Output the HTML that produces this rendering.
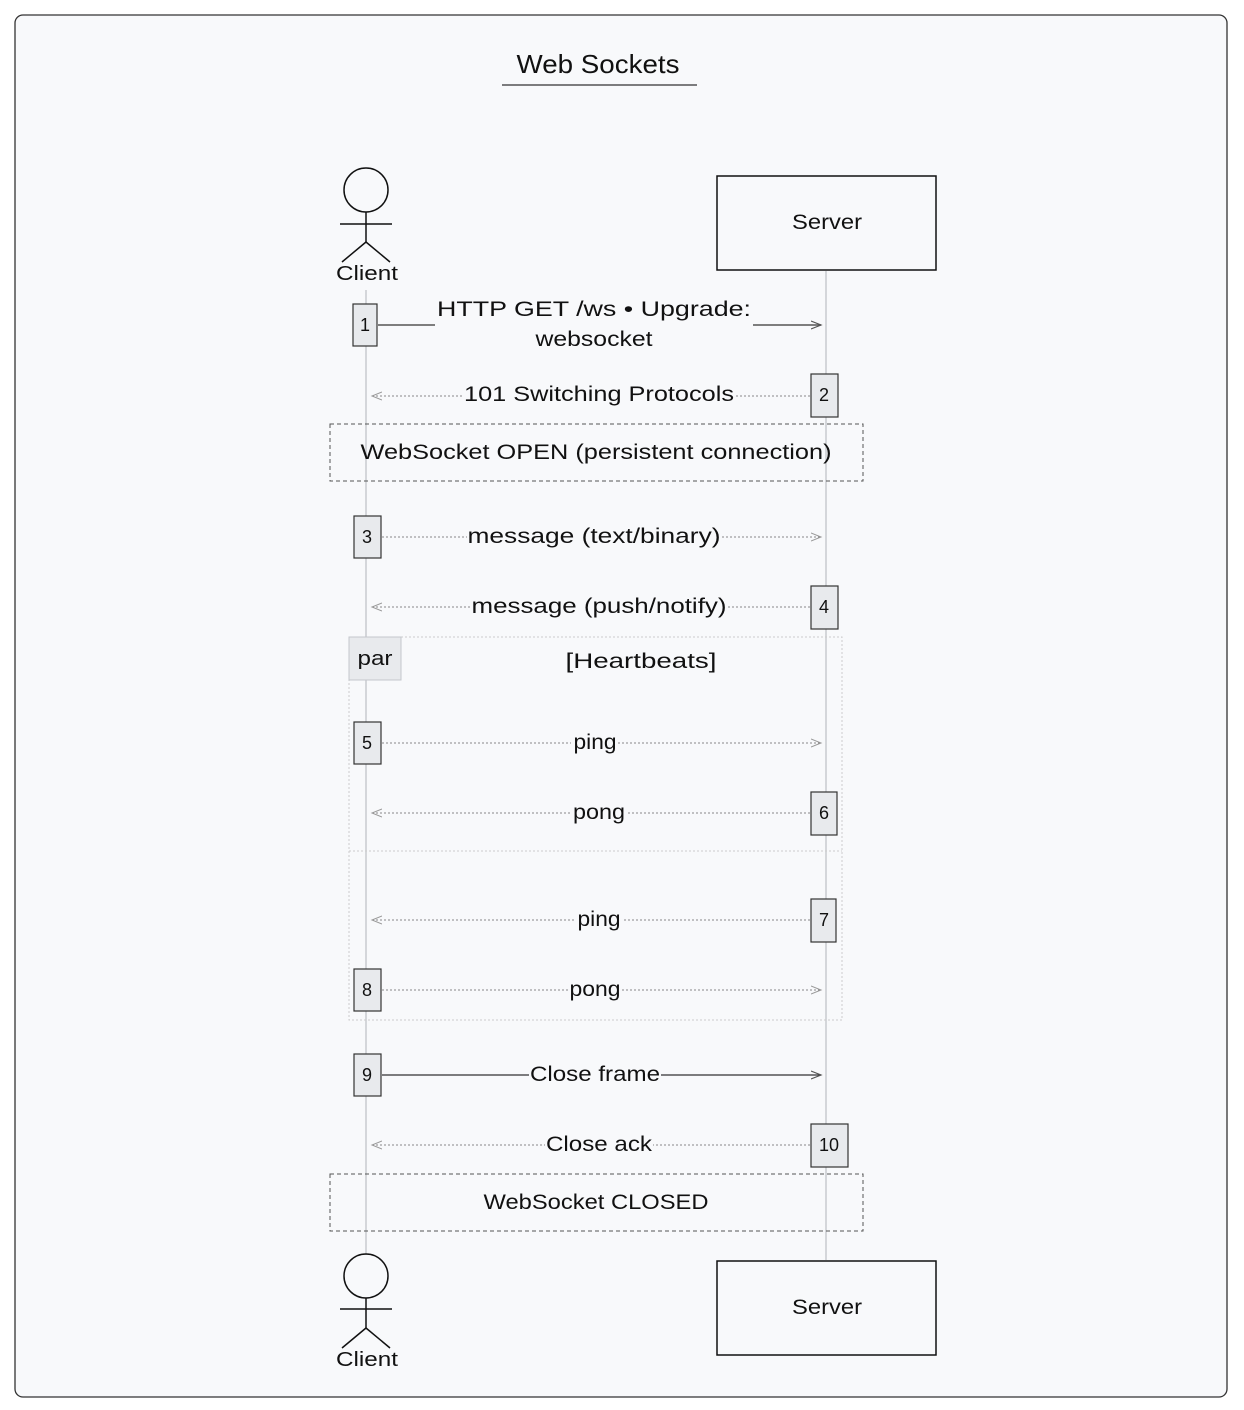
<!DOCTYPE html>
<html><head><meta charset="utf-8"><style>
html,body{margin:0;padding:0;background:#fff;}
svg{display:block;}
text{font-family:"Liberation Sans",sans-serif;fill:#111;}
</style></head><body>
<svg width="1244" height="1410" viewBox="0 0 1244 1410" xmlns="http://www.w3.org/2000/svg">
<defs>
<marker id="a" markerWidth="12" markerHeight="10" refX="10" refY="5" orient="auto" markerUnits="userSpaceOnUse"><path d="M0,1 L10,5 L0,9" fill="none" stroke="#555" stroke-width="1.2"/></marker>
<marker id="ad" markerWidth="12" markerHeight="10" refX="10" refY="5" orient="auto" markerUnits="userSpaceOnUse"><path d="M0,1 L10,5 L0,9" fill="none" stroke="#999" stroke-width="1"/></marker>
</defs>
<rect x="0" y="0" width="1244" height="1410" fill="#fff"/>
<rect x="15" y="15" width="1212" height="1382" rx="8" fill="#f8f9fb" stroke="#333" stroke-width="1.3"/>
<text x="598" y="73" font-size="26" text-anchor="middle" textLength="163" lengthAdjust="spacingAndGlyphs">Web Sockets</text>
<line x1="502" y1="85" x2="697" y2="85" stroke="#333" stroke-width="1.3"/>

<line x1="366" y1="290" x2="366" y2="1255" stroke="#d4d6da" stroke-width="2"/>
<line x1="826" y1="271" x2="826" y2="1260" stroke="#d4d6da" stroke-width="2"/>

<g stroke="#111" stroke-width="1.5" fill="none">
<circle cx="366" cy="190" r="22"/>
<line x1="366" y1="212" x2="366" y2="242"/>
<line x1="340" y1="224" x2="392" y2="224"/>
<line x1="366" y1="242" x2="342" y2="262"/>
<line x1="366" y1="242" x2="390" y2="262"/>
</g>
<text x="367" y="280" font-size="20" text-anchor="middle" textLength="62" lengthAdjust="spacingAndGlyphs">Client</text>
<rect x="717" y="176" width="219" height="94" fill="#f8f9fb" stroke="#111" stroke-width="1.5"/>
<text x="827" y="229" font-size="21" text-anchor="middle" textLength="70" lengthAdjust="spacingAndGlyphs">Server</text>

<g stroke="#111" stroke-width="1.5" fill="none">
<circle cx="366" cy="1276" r="22"/>
<line x1="366" y1="1298" x2="366" y2="1328"/>
<line x1="340" y1="1309" x2="392" y2="1309"/>
<line x1="366" y1="1328" x2="342" y2="1348"/>
<line x1="366" y1="1328" x2="390" y2="1348"/>
</g>
<text x="367" y="1366" font-size="20" text-anchor="middle" textLength="62" lengthAdjust="spacingAndGlyphs">Client</text>
<rect x="717" y="1261" width="219" height="94" fill="#f8f9fb" stroke="#111" stroke-width="1.5"/>
<text x="827" y="1314" font-size="21" text-anchor="middle" textLength="70" lengthAdjust="spacingAndGlyphs">Server</text>

<line x1="378" y1="325" x2="435" y2="325" stroke="#555" stroke-width="1.5"/>
<line x1="753" y1="325" x2="821" y2="325" stroke="#555" stroke-width="1.5" marker-end="url(#a)"/>
<text x="594" y="316" font-size="21" text-anchor="middle" textLength="314" lengthAdjust="spacingAndGlyphs">HTTP GET /ws • Upgrade:</text>
<text x="594" y="346" font-size="21" text-anchor="middle" textLength="117" lengthAdjust="spacingAndGlyphs">websocket</text>
<rect x="353" y="304" width="24" height="42" fill="#e8eaed" stroke="#333" stroke-width="1.2"/>
<text x="365" y="331" font-size="18" text-anchor="middle">1</text>

<line x1="810" y1="396" x2="372" y2="396" stroke="#888" stroke-width="1" stroke-dasharray="2,2" marker-end="url(#ad)"/>
<rect x="463" y="380" width="272" height="26" fill="#f8f9fb"/>
<text x="599" y="401" font-size="21" text-anchor="middle" textLength="270" lengthAdjust="spacingAndGlyphs">101 Switching Protocols</text>
<rect x="811" y="374" width="27" height="43" fill="#e8eaed" stroke="#333" stroke-width="1.2"/>
<text x="824" y="401" font-size="18" text-anchor="middle">2</text>

<rect x="330" y="424" width="533" height="57" fill="none" stroke="#555" stroke-width="1" stroke-dasharray="4,3"/>
<text x="596" y="459" font-size="21" text-anchor="middle" textLength="471" lengthAdjust="spacingAndGlyphs">WebSocket OPEN (persistent connection)</text>

<line x1="382" y1="537" x2="821" y2="537" stroke="#888" stroke-width="1" stroke-dasharray="2,2" marker-end="url(#ad)"/>
<rect x="467" y="522" width="255" height="26" fill="#f8f9fb"/>
<text x="594" y="543" font-size="21" text-anchor="middle" textLength="253" lengthAdjust="spacingAndGlyphs">message (text/binary)</text>
<rect x="354" y="516" width="27" height="42" fill="#e8eaed" stroke="#333" stroke-width="1.2"/>
<text x="367" y="543" font-size="18" text-anchor="middle">3</text>

<line x1="810" y1="607" x2="372" y2="607" stroke="#888" stroke-width="1" stroke-dasharray="2,2" marker-end="url(#ad)"/>
<rect x="471" y="592" width="257" height="26" fill="#f8f9fb"/>
<text x="599" y="613" font-size="21" text-anchor="middle" textLength="255" lengthAdjust="spacingAndGlyphs">message (push/notify)</text>
<rect x="811" y="586" width="27" height="43" fill="#e8eaed" stroke="#333" stroke-width="1.2"/>
<text x="824" y="613" font-size="18" text-anchor="middle">4</text>

<rect x="349" y="637" width="493" height="383" fill="none" stroke="#ccc" stroke-width="1" stroke-dasharray="2,2"/>
<line x1="349" y1="851" x2="842" y2="851" stroke="#ccc" stroke-width="1" stroke-dasharray="2,2"/>
<rect x="349" y="637" width="52" height="43" fill="#e8eaed" stroke="#c4c7cc" stroke-width="1"/>
<text x="375" y="665" font-size="20" text-anchor="middle" textLength="35" lengthAdjust="spacingAndGlyphs">par</text>
<text x="641" y="668" font-size="21" text-anchor="middle" textLength="151" lengthAdjust="spacingAndGlyphs">[Heartbeats]</text>

<line x1="382" y1="743" x2="821" y2="743" stroke="#888" stroke-width="1" stroke-dasharray="2,2" marker-end="url(#ad)"/>
<rect x="571" y="728" width="47" height="26" fill="#f8f9fb"/>
<text x="595" y="749" font-size="21" text-anchor="middle" textLength="43" lengthAdjust="spacingAndGlyphs">ping</text>
<rect x="354" y="722" width="27" height="42" fill="#e8eaed" stroke="#333" stroke-width="1.2"/>
<text x="367" y="749" font-size="18" text-anchor="middle">5</text>

<line x1="810" y1="813" x2="372" y2="813" stroke="#888" stroke-width="1" stroke-dasharray="2,2" marker-end="url(#ad)"/>
<rect x="572" y="798" width="55" height="26" fill="#f8f9fb"/>
<text x="599" y="819" font-size="21" text-anchor="middle" textLength="52" lengthAdjust="spacingAndGlyphs">pong</text>
<rect x="811" y="792" width="26" height="43" fill="#e8eaed" stroke="#333" stroke-width="1.2"/>
<text x="824" y="819" font-size="18" text-anchor="middle">6</text>

<line x1="810" y1="920" x2="372" y2="920" stroke="#888" stroke-width="1" stroke-dasharray="2,2" marker-end="url(#ad)"/>
<rect x="576" y="905" width="46" height="26" fill="#f8f9fb"/>
<text x="599" y="926" font-size="21" text-anchor="middle" textLength="43" lengthAdjust="spacingAndGlyphs">ping</text>
<rect x="811" y="899" width="25" height="43" fill="#e8eaed" stroke="#333" stroke-width="1.2"/>
<text x="824" y="926" font-size="18" text-anchor="middle">7</text>

<line x1="382" y1="990" x2="821" y2="990" stroke="#888" stroke-width="1" stroke-dasharray="2,2" marker-end="url(#ad)"/>
<rect x="568" y="975" width="54" height="26" fill="#f8f9fb"/>
<text x="595" y="996" font-size="21" text-anchor="middle" textLength="51" lengthAdjust="spacingAndGlyphs">pong</text>
<rect x="354" y="969" width="27" height="42" fill="#e8eaed" stroke="#333" stroke-width="1.2"/>
<text x="367" y="996" font-size="18" text-anchor="middle">8</text>

<line x1="382" y1="1075" x2="821" y2="1075" stroke="#333" stroke-width="1.3" marker-end="url(#a)"/>
<rect x="529" y="1060" width="132" height="26" fill="#f8f9fb"/>
<text x="595" y="1081" font-size="21" text-anchor="middle" textLength="130" lengthAdjust="spacingAndGlyphs">Close frame</text>
<rect x="354" y="1054" width="27" height="42" fill="#e8eaed" stroke="#333" stroke-width="1.2"/>
<text x="367" y="1081" font-size="18" text-anchor="middle">9</text>

<line x1="810" y1="1145" x2="372" y2="1145" stroke="#888" stroke-width="1" stroke-dasharray="2,2" marker-end="url(#ad)"/>
<rect x="545" y="1130" width="108" height="26" fill="#f8f9fb"/>
<text x="599" y="1151" font-size="21" text-anchor="middle" textLength="106" lengthAdjust="spacingAndGlyphs">Close ack</text>
<rect x="811" y="1124" width="37" height="43" fill="#e8eaed" stroke="#333" stroke-width="1.2"/>
<text x="829" y="1151" font-size="18" text-anchor="middle">10</text>

<rect x="330" y="1174" width="533" height="57" fill="none" stroke="#555" stroke-width="1" stroke-dasharray="4,3"/>
<text x="596" y="1209" font-size="21" text-anchor="middle" textLength="225" lengthAdjust="spacingAndGlyphs">WebSocket CLOSED</text>
</svg>
</body></html>
